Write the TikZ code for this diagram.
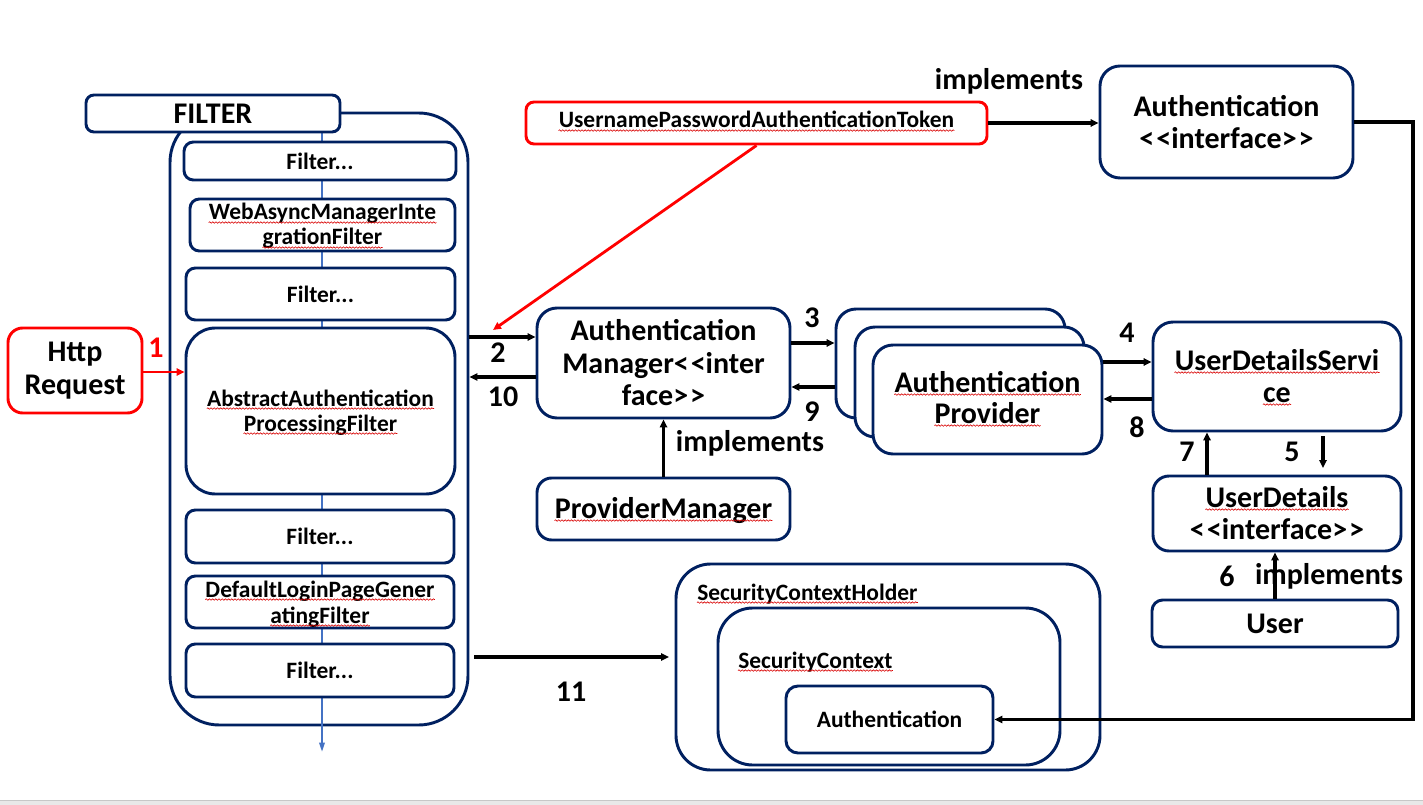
\documentclass[tikz,border=0pt]{standalone}
\usepackage{fontspec}
\setmainfont{Carlito}
\usetikzlibrary{arrows.meta,calc,decorations.pathmorphing}
\definecolor{navy}{HTML}{002060}
\definecolor{fblue}{HTML}{4472C4}
\newcommand\Lg{\fontsize{22.5}{24.4}\selectfont\bfseries}
\newcommand\Sm{\fontsize{17.6}{19}\selectfont\bfseries}
\newcommand\lglq{<\kern1.5pt<}
\newcommand\rgrq{>\kern1.5pt>}
\tikzset{
  sz/.style 2 args={minimum width=#1*0.75pt, minimum height=#2*0.75pt},
  nbox/.style={draw=navy, line width=2.2pt, fill=white, rounded corners=#1, inner sep=0pt, align=center},
  nbox/.default=7pt,
  rbox/.style={draw=red, line width=2.2pt, fill=white, rounded corners=#1, inner sep=0pt, align=center},
  rbox/.default=7pt,
  arr/.style={line width=2.3pt, -{Triangle[length=6pt,width=5.5pt]}},
  rarr/.style={draw=red, line width=2.1pt, -{Triangle[length=6pt,width=5.5pt]}},
  barr/.style={draw=fblue, line width=1.5pt, -{Triangle[length=7pt,width=4pt]}},
  lbl/.style={inner sep=0pt, font=\Lg},
  sqt/.style={inner sep=0pt, anchor=base},
  wave/.style={draw=red!85!black, line width=0.45pt, decorate, decoration={snake, amplitude=0.55pt, segment length=2.4pt}},
}
\begin{document}
\begin{tikzpicture}[x=0.75pt,y=-0.75pt]
\useasboundingbox (0,0) rectangle (1423,805);
\fill[white] (0,0) rectangle (1423,805);
\fill[black!9] (0,800) rectangle (1423,805);
\draw[black!22,line width=0.8pt] (0,800.5) -- (1423,800.5);

% level coordinates
\coordinate (y337) at (0,337);
\coordinate (y377) at (0,377);
\coordinate (y343) at (0,343);
\coordinate (y387) at (0,387);
\coordinate (y362) at (0,362);
\coordinate (y399) at (0,399);
\coordinate (y372) at (0,372);
\coordinate (x1207) at (1207,0);
\coordinate (cR) at (1413,0);
\coordinate (bt) at (322,132);
\coordinate (bb) at (322,752);
\coordinate (redtip) at (493,330);
\coordinate (a5s) at (1323,436);
\coordinate (a5e) at (1323,468);
\coordinate (a11s) at (474,657);
\coordinate (a11e) at (669,657);

% FILTER container
\node[nbox=37pt, fill=none, sz={298}{612}] (cont) at (319,419) {};
\draw[barr] (bt) -- (bb);
\node[nbox=7pt, sz={272}{38}, font=\Sm] (f1) at (320,161) {Filter...};
\node[nbox=7pt, sz={265}{52}] (f2) at (322.5,225) {};
\node[sqt, font=\Sm] (f2a) at (322.5,220) {WebAsyncManagerInte};
\node[sqt, font=\Sm] (f2b) at (322.5,245) {grationFilter};
\node[nbox=7pt, sz={269}{52}, font=\Sm] (f3) at (320.5,294) {Filter...};
\node[nbox=22pt, sz={269}{166}] (f4) at (320.5,411) {};
\node[sqt, font=\Sm] (f4a) at (320.5,406) {AbstractAuthentication};
\node[sqt, font=\Sm] (f4b) at (320.5,431) {ProcessingFilter};
\node[nbox=7pt, sz={268}{53}, font=\Sm] (f5) at (320,536.5) {Filter...};
\node[nbox=7pt, sz={268}{52}] (f6) at (320,602) {};
\node[sqt, font=\Sm] (f6a) at (320,597) {DefaultLoginPageGener};
\node[sqt, font=\Sm] (f6b) at (320,623) {atingFilter};
\node[nbox=7pt, sz={268}{53}, font=\Sm] (f7) at (320,670.5) {Filter...};
\node[nbox=6pt, sz={254}{37}, font=\Lg] (filt) at (213,113.5) {FILTER};

% Http request
\node[rbox=11pt, sz={134}{85}, font=\Lg] (http) at (75,370.5) {Http\\Request};
\draw[rarr] (http.east |- y372) -- (f4.west |- y372);
\node[lbl, text=red] (n1) at (156,348) {1};

% Token and Authentication interface
\node[rbox=6pt, sz={461}{42}] (tok) at (756.5,123) {};
\node[sqt, font=\Sm] (toka) at (756.5,128) {UsernamePasswordAuthenticationToken};
\node[nbox=15pt, sz={253}{112}, font=\Lg] (authi) at (1226.5,122) {Authentication\\\lglq interface\rgrq};
\draw[arr] (tok.east) -- (tok.east -| authi.west);
\node[lbl] (imp1) at (1009,81) {implements};
\draw[rarr] (tok.south) -- (redtip);

% Authentication manager
\node[nbox=15pt, sz={253}{110}, font=\Lg] (am) at (663.5,363) {Authentication\\Manager\lglq inter\\face\rgrq};
\node[nbox=11pt, sz={253}{62}] (pm) at (663.5,509) {};
\node[sqt, font=\Lg] (pma) at (663.5,518) {ProviderManager};
\draw[arr] (pm.north) -- (am.south);
\node[lbl] (imp2) at (750,443) {implements};
\draw[arr] (cont.east |- y337) -- (am.west |- y337);
\draw[arr] (am.west |- y377) -- (cont.east |- y377);
\node[lbl] (n2) at (498,353) {2};
\node[lbl] (n10) at (503,397) {10};

% Providers
\node[nbox=15pt, sz={229}{109}] (p1) at (950.5,363.5) {};
\node[nbox=15pt, sz={229}{110}] (p2) at (969.5,382) {};
\node[nbox=15pt, sz={229}{109}] (p3) at (987.5,399.5) {};
\node[sqt, font=\Lg] (p3a) at (987.5,392) {Authentication};
\node[sqt, font=\Lg] (p3b) at (987.5,423) {Provider};
\draw[arr] (am.east |- y343) -- (p1.west |- y343);
\draw[arr] (p1.west |- y387) -- (am.east |- y387);
\node[lbl] (n3) at (812,318) {3};
\node[lbl] (n9) at (812,412) {9};

% User details
\node[nbox=15pt, sz={248}{109}] (uds) at (1277,376.5) {};
\node[sqt, font=\Lg] (udsa) at (1277,370) {UserDetailsServi};
\node[sqt, font=\Lg] (udsb) at (1277,402) {ce};
\draw[arr] (p3.east |- y362) -- (uds.west |- y362);
\draw[arr] (uds.west |- y399) -- (p3.east |- y399);
\node[lbl] (n4) at (1127,333) {4};
\node[lbl] (n8) at (1137,427) {8};
\node[nbox=12pt, sz={248}{75}] (ud) at (1277,513.5) {};
\node[sqt, font=\Lg] (uda) at (1277,507) {UserDetails};
\node[sqt, font=\Lg] (udb) at (1277,539) {\lglq interface\rgrq};
\draw[arr] (ud.north -| x1207) -- (uds.south -| x1207);
\draw[arr] (a5s) -- (a5e);
\node[lbl] (n7) at (1187,452) {7};
\node[lbl] (n5) at (1292,452) {5};
\node[nbox=8pt, sz={246}{47}, font=\Lg] (user) at (1275,623.5) {User};
\draw[arr] (user.north) -- (user.north |- ud.south);
\node[lbl] (n6) at (1227,576) {6};
\node[lbl] (imp3) at (1329,576) {implements};

% Security context
\node[nbox=26pt, sz={424}{206}] (sch) at (888,667) {};
\node[nbox=26pt, sz={342}{157}] (sc) at (889,686.5) {};
\node[nbox=9pt, sz={207}{67}, font=\Sm] (sca) at (889.5,719.5) {Authentication};
\node[sqt, anchor=base west, font=\Sm] (schl) at (697,600) {SecurityContextHolder};
\node[sqt, anchor=base west, font=\Sm] (scl) at (738,668) {SecurityContext};
\draw[arr] (a11s) -- (a11e);
\node[lbl] (n11) at (571,692) {11};
\draw[arr] (authi.east) -- (authi.east -| cR) -- (sca.east -| cR) -- (sca.east);

% spell-check underlines
\foreach \n in {f2a,f2b,f4a,f4b,f6a,f6b,toka,pma,p3a,p3b,udsa,udsb,uda,schl,scl}
  \draw[wave] ([yshift=-1.9pt]\n.base west) -- ([yshift=-1.9pt]\n.base east);
\end{tikzpicture}
\end{document}
